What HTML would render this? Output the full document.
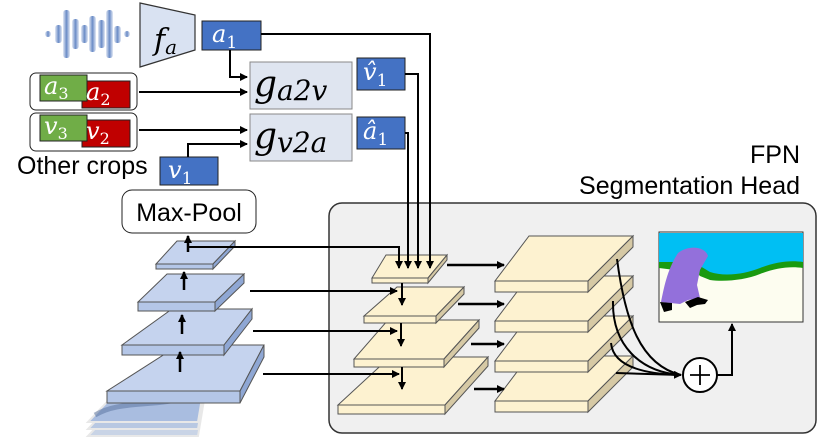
<!DOCTYPE html>
<html><head><meta charset="utf-8"><style>
html,body{margin:0;padding:0;background:#fff;}
svg{display:block;}
.m{font-family:"DejaVu Serif","Liberation Serif",serif;font-style:italic;fill:#fff;}
</style></head><body>
<svg width="830" height="446" viewBox="0 0 830 446" xmlns="http://www.w3.org/2000/svg">
<defs>
<marker id="ah" markerWidth="8" markerHeight="8" refX="7" refY="4" orient="auto" markerUnits="userSpaceOnUse">
<path d="M0,0 L8,4 L0,8 z" fill="#000"/></marker>
<linearGradient id="wg" x1="0" y1="0" x2="1" y2="0"><stop offset="0" stop-color="#e3e9f5"/><stop offset="0.5" stop-color="#6a8bc6"/><stop offset="1" stop-color="#e3e9f5"/></linearGradient>
</defs>
<g fill="url(#wg)">
<rect x="45" y="31" width="6" height="6" rx="3"/>
<rect x="55" y="25" width="7" height="18" rx="3"/>
<rect x="63" y="10" width="7" height="48" rx="3"/>
<rect x="72" y="19" width="7" height="30" rx="3"/>
<rect x="81" y="25" width="7" height="18" rx="3"/>
<rect x="89" y="16" width="7" height="36" rx="3"/>
<rect x="98" y="20" width="7" height="28" rx="3"/>
<rect x="106" y="10" width="7" height="48" rx="3"/>
<rect x="114" y="26" width="7" height="17" rx="3"/>
<rect x="124" y="31" width="6" height="6" rx="3"/>
</g>
<polygon points="140,3 195,15 195,50 140,67" fill="#d9e2f2" stroke="#333" stroke-width="1.2"/>
<text x="154" y="50" class="m" style="fill:#000;font-size:30px">f<tspan font-size="20" dy="4">a</tspan></text>
<rect x="202" y="21" width="59" height="29" fill="#4472c4" stroke="#222"/>
<text x="212" y="42" class="m" font-size="24">a<tspan font-size="17" dy="6" font-style="normal">1</tspan></text>
<rect x="250" y="62" width="102" height="47" fill="#dfe5f0" stroke="#888"/>
<text x="254" y="96" class="m" style="fill:#000;font-size:36px">g<tspan font-size="28" dy="4">a2v</tspan></text>
<rect x="250" y="114" width="102" height="47" fill="#dfe5f0" stroke="#888"/>
<text x="254" y="148" class="m" style="fill:#000;font-size:36px">g<tspan font-size="28" dy="4">v2a</tspan></text>
<rect x="357" y="58" width="48" height="32" fill="#4472c4" stroke="#222"/>
<text x="363" y="80" class="m" font-size="24">v̂<tspan font-size="17" dy="6" font-style="normal">1</tspan></text>
<rect x="357" y="117" width="48" height="32" fill="#4472c4" stroke="#222"/>
<text x="363" y="139" class="m" font-size="24">â<tspan font-size="17" dy="6" font-style="normal">1</tspan></text>
<rect x="30" y="73" width="107" height="37" rx="6" fill="#fff" stroke="#222"/>
<rect x="82" y="81" width="48" height="27" fill="#c00000" stroke="#222"/>
<rect x="40" y="75" width="47" height="26" fill="#70ad47" stroke="#222"/>
<text x="44" y="94" class="m" font-size="24">a<tspan font-size="16" dy="5" font-style="normal">3</tspan></text>
<text x="86" y="100" class="m" font-size="24">a<tspan font-size="16" dy="5" font-style="normal">2</tspan></text>
<rect x="30" y="113" width="107" height="38" rx="6" fill="#fff" stroke="#222"/>
<rect x="82" y="120" width="48" height="27" fill="#c00000" stroke="#222"/>
<rect x="40" y="115" width="47" height="26" fill="#70ad47" stroke="#222"/>
<text x="44" y="134" class="m" font-size="24">v<tspan font-size="16" dy="5" font-style="normal">3</tspan></text>
<text x="86" y="139" class="m" font-size="24">v<tspan font-size="16" dy="5" font-style="normal">2</tspan></text>
<text x="17" y="174" font-family="Liberation Sans,sans-serif" font-size="25">Other crops</text>
<rect x="160" y="157" width="58" height="28" fill="#4472c4" stroke="#222"/>
<text x="168" y="178" class="m" font-size="24">v<tspan font-size="17" dy="6" font-style="normal">1</tspan></text>
<rect x="122" y="190" width="134" height="43" rx="10" fill="#fff" stroke="#222"/>
<text x="189" y="221" text-anchor="middle" font-family="Liberation Sans,sans-serif" font-size="25">Max-Pool</text>
<rect x="329" y="203" width="487" height="230" rx="13" fill="#f0f0f0" stroke="#333" stroke-width="1.5"/>
<text x="800" y="163" text-anchor="end" font-family="Liberation Sans,sans-serif" font-size="25">FPN</text>
<text x="800" y="194" text-anchor="end" font-family="Liberation Sans,sans-serif" font-size="25">Segmentation Head</text>
<g>
<polygon points="128,394 205,394 198,436 88,436" fill="#c9d4e6" stroke="#e8e8e8" stroke-width="2"/>
<polygon points="128,387 205,387 198,429 88,429" fill="#b8c8e2" stroke="#e8e8e8" stroke-width="2"/>
<polygon points="128,380 205,380 198,422 88,422" fill="#a9bde0" stroke="#e8e8e8" stroke-width="2"/>
<path d="M95,415 C120,400 150,408 195,396" stroke="#56709c" stroke-width="5" fill="none" opacity="0.5"/>
</g>
<g stroke="#555" stroke-width="1">
<polygon points="179,345 264,345 240,391 107,391" fill="#c5d3ee"/><rect x="107" y="391" width="133" height="12" fill="#b4c6e7"/><polygon points="240,391 264,345 264,357 240,403" fill="#8fa7d4"/>
<polygon points="172,309 252,309 224,345 122,345" fill="#c5d3ee"/><rect x="122" y="345" width="102" height="10" fill="#b4c6e7"/><polygon points="224,345 252,309 252,319 224,355" fill="#8fa7d4"/>
<polygon points="167,274 244,274 215,302 138,302" fill="#c5d3ee"/><rect x="138" y="302" width="77" height="9" fill="#b4c6e7"/><polygon points="215,302 244,274 244,283 215,311" fill="#8fa7d4"/>
<polygon points="177,241 235,241 213,264 156,264" fill="#c5d3ee"/><rect x="156" y="264" width="57" height="5" fill="#b4c6e7"/><polygon points="213,264 235,241 235,246 213,269" fill="#8fa7d4"/>
</g>
<g stroke="#555" stroke-width="1">
<polygon points="390,357 488,357 445,405 338,405" fill="#fdf2d0"/><rect x="338" y="405" width="107" height="9" fill="#fdf2d0"/><polygon points="445,405 488,357 488,366 445,414" fill="#d6c9a5"/>
<polygon points="388,320 479,320 444,359 354,359" fill="#fdf2d0"/><rect x="354" y="359" width="90" height="8" fill="#fdf2d0"/><polygon points="444,359 479,320 479,328 444,367" fill="#d6c9a5"/>
<polygon points="397,287 464,287 436,316 364,316" fill="#fdf2d0"/><rect x="364" y="316" width="72" height="7" fill="#fdf2d0"/><polygon points="436,316 464,287 464,294 436,323" fill="#d6c9a5"/>
<polygon points="386,255 447,255 428,278 372,278" fill="#fdf2d0"/><rect x="372" y="278" width="56" height="5" fill="#fdf2d0"/><polygon points="428,278 447,255 447,260 428,283" fill="#d6c9a5"/>
</g>
<g stroke="#555" stroke-width="1">
<polygon points="529,356 633,356 588,401 495,401" fill="#fdf2d0"/><rect x="495" y="401" width="93" height="11" fill="#fdf2d0"/><polygon points="588,401 633,356 633,367 588,412" fill="#d6c9a5"/>
<polygon points="529,316 633,316 588,361 495,361" fill="#fdf2d0"/><rect x="495" y="361" width="93" height="11" fill="#fdf2d0"/><polygon points="588,361 633,316 633,327 588,372" fill="#d6c9a5"/>
<polygon points="529,276 633,276 588,321 495,321" fill="#fdf2d0"/><rect x="495" y="321" width="93" height="11" fill="#fdf2d0"/><polygon points="588,321 633,276 633,287 588,332" fill="#d6c9a5"/>
<polygon points="529,236 633,236 588,281 495,281" fill="#fdf2d0"/><rect x="495" y="281" width="93" height="11" fill="#fdf2d0"/><polygon points="588,281 633,236 633,247 588,292" fill="#d6c9a5"/>
</g>
<g fill="none" stroke="#000" stroke-width="2">
<polyline points="230,50 230,77 247,77" marker-end="url(#ah)"/>
<line x1="139" y1="92" x2="247" y2="92" marker-end="url(#ah)"/>
<line x1="139" y1="130" x2="247" y2="130" marker-end="url(#ah)"/>
<polyline points="188,157 188,144 247,144" marker-end="url(#ah)"/>
<polyline points="261,34 430,34 430,268" marker-end="url(#ah)"/>
<polyline points="405,74 418,74 418,268" marker-end="url(#ah)"/>
<polyline points="405,133 408,133 408,268" marker-end="url(#ah)"/>
<polyline points="188,247 399,247 399,268" marker-end="url(#ah)"/>
</g>
<g stroke="#000" stroke-width="2.5" fill="none">
<line x1="180" y1="372" x2="180" y2="352" marker-end="url(#ah)"/>
<line x1="182" y1="334" x2="182" y2="315" marker-end="url(#ah)"/>
<line x1="184" y1="290" x2="184" y2="272" marker-end="url(#ah)"/>
<line x1="188" y1="252" x2="188" y2="236" marker-end="url(#ah)"/>
</g>
<g stroke="#000" stroke-width="2" fill="none">
<line x1="250" y1="291" x2="397" y2="291" marker-end="url(#ah)"/>
<line x1="253" y1="331" x2="397" y2="331" marker-end="url(#ah)"/>
<line x1="263" y1="374" x2="399" y2="374" marker-end="url(#ah)"/>
<line x1="402" y1="283" x2="402" y2="305" marker-end="url(#ah)"/>
<line x1="401" y1="323" x2="401" y2="346" marker-end="url(#ah)"/>
<line x1="402" y1="367" x2="402" y2="389" marker-end="url(#ah)"/>
<line x1="447" y1="265" x2="504" y2="265" stroke-width="2.5" marker-end="url(#ah)"/>
<line x1="458" y1="304" x2="504" y2="304" stroke-width="2.5" marker-end="url(#ah)"/>
<line x1="471" y1="344" x2="504" y2="344" stroke-width="2.5" marker-end="url(#ah)"/>
<line x1="474" y1="389" x2="504" y2="389" stroke-width="2.5" marker-end="url(#ah)"/>
<path d="M617,259 C625,320 640,365 681,375"/>
<path d="M613,301 C612,345 640,372 681,375"/>
<path d="M611,343 C613,365 640,374 681,375"/>
<path d="M616,373 L681,375" marker-end="url(#ah)"/>
<polyline points="717,375 732,375 732,324" marker-end="url(#ah)"/>
</g>
<circle cx="700" cy="375" r="17" fill="#fff" stroke="#000" stroke-width="2"/>
<path d="M690,375 H710 M700,365 V385" stroke="#000" stroke-width="1.8"/>
<rect x="659" y="232" width="144" height="90" fill="#fdfdf0" stroke="#333"/>
<path d="M659,233 H803 V264 C790,262 775,266 760,272 C745,278 725,280 710,276 L700,270 L690,262 L675,264 L659,262 Z" fill="#00bff3"/>
<path d="M659,262 L675,262 L690,258 L700,266 L710,272 C725,277 745,274 760,268 C775,262 790,260 803,262 L803,268 C790,266 775,268 760,274 C745,280 725,282 710,280 L700,276 L690,266 L675,270 L659,268 Z" fill="#1a9a10"/>
<path d="M661,302 C664,288 667,270 678,253 C688,245 705,246 708,256 L700,270 L697,285 L700,298 L688,300 L680,304 Z" fill="#9370db"/>
<path d="M660,302 L664,312 L672,310 L672,303 Z M685,302 L690,308 L697,305 L705,304 L708,300 L698,297 Z" fill="#000"/>
</svg>
</body></html>
